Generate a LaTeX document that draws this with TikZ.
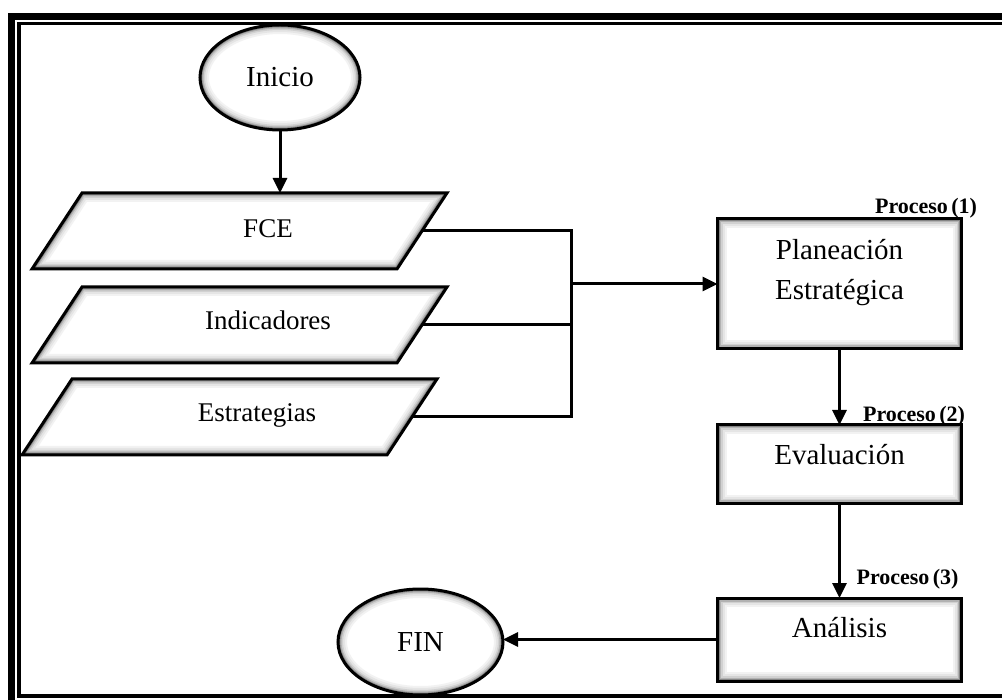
\documentclass[tikz,border=0pt]{standalone}
\usepackage{fontspec}
\setmainfont{Liberation Serif}
\newfontfamily\procfont[WordSpace=0.6]{Liberation Serif}
\usetikzlibrary{shapes.geometric, arrows.meta, calc}

% widths / grey levels of the soft inner shading along each outline
\newcommand\glowlist{18/5,14/10,10/18,7/30,4.5/48}

\tikzset{
  every node/.style={outer sep=0pt},
  boxglow/.style={path picture={
    \foreach \w/\c in \glowlist {
      \draw[line width=\w pt, black!\c]
        (path picture bounding box.south west) rectangle (path picture bounding box.north east);}}},
  ovalglow/.style={path picture={
    \foreach \w/\c in \glowlist {
      \draw[line width=\w pt, black!\c]
        let \p1=(path picture bounding box.south west), \p2=(path picture bounding box.north east) in
        (path picture bounding box.center) ellipse [x radius={(\x2-\x1)/2}, y radius={(\y2-\y1)/2}];}}},
  parglow/.style={path picture={
    \foreach \w/\c in \glowlist {
      \draw[line width=\w pt, black!\c]
        let \p1=(path picture bounding box.south west), \p2=(path picture bounding box.north east) in
        (\x1+50pt,\y2) -- (\x2,\y2) -- (\x2-50pt,\y1) -- (\x1,\y1) -- cycle;}}},
  oval/.style={ellipse, draw, line width=3pt, fill=white, ovalglow,
    minimum width=165pt, minimum height=106pt, inner sep=0pt,
    font=\fontsize{29}{34}\selectfont, text height=19pt, text depth=0pt},
  % body 315 x 76, sides slanted by 50 horizontally
  datain/.style={trapezium, trapezium left angle=56.66, trapezium right angle=123.34,
    draw, line width=3pt, fill=white, parglow,
    inner xsep=157.5pt, inner ysep=38pt, text width=0pt, text height=0pt, text depth=0pt},
  procbox/.style={rectangle, draw, line width=3pt, fill=white, boxglow,
    minimum width=244pt, inner sep=0pt},
  lbl/.style={font=\fontsize{29}{40}\selectfont, align=center, inner sep=0pt},
  plbl/.style={font=\fontsize{27}{32}\selectfont, text height=18pt, text depth=0pt, inner sep=0pt},
  tag/.style={font=\procfont\bfseries\fontsize{22}{26}\selectfont, inner sep=0pt},
  wire/.style={line width=3pt},
  flow/.style={wire, -{Triangle[length=15pt, width=14pt]}},
}

\begin{document}
\begin{tikzpicture}[x=1pt, y=-1pt]
  \clip (0,0) rectangle (1002,700);

  % double frame
  \draw[line width=7pt] (11.5,16.5) rectangle (1030,730);
  \draw[line width=3.5pt] (19.2,23.7) rectangle (1020,696.2);

  % start
  \node[oval, minimum width=160pt, minimum height=105pt, xshift=0pt] (inicio) at (280,77.5) {Inicio};

  % inputs
  \node[datain, label={[plbl, xshift=28.5pt, yshift=2pt]center:FCE}] (fce) at (239.5,231) {};
  \node[datain, label={[plbl, xshift=28.5pt, yshift=4pt]center:Indicadores}] (ind) at (239.5,325) {};
  \node[datain, label={[plbl, xshift=27.5pt, yshift=4pt]center:Estrategias}] (est) at (229.5,417) {};

  % processes
  \node[procbox, minimum height=130pt,
        label={[lbl, yshift=11pt]center:{Planeación\\Estratégica}}] (plan) at (839.5,284) {};
  \node[procbox, minimum height=79pt,
        label={[lbl, text height=19pt, text depth=0pt, yshift=9pt]center:Evaluación}] (eval) at (839.5,464.5) {};
  \node[procbox, minimum height=83pt,
        label={[lbl, text height=19pt, text depth=0pt, yshift=12pt]center:Análisis}] (anal) at (839.5,639.5) {};

  % end
  \node[oval] (fin) at (420.5,642) {FIN};

  % step tags
  \node[tag, anchor=base] (t1) at (926,214) {Proceso (1)};
  \node[tag, anchor=base] (t2) at (914,422) {Proceso (2)};
  \node[tag, anchor=base] (t3) at (907.5,584) {Proceso (3)};

  % connectors
  \coordinate (hub) at (571,284);
  \draw[flow] (inicio.south) -- (inicio.south |- fce.north);
  \draw[wire] (fce.east) -| (hub) |- (est.east);
  \draw[wire] (ind.east) -- (ind.east -| hub);
  \draw[flow] (hub) -- (plan.west);
  \draw[flow] (plan.south) -- (eval.north);
  \draw[flow] (eval.south) -- (anal.north);
  \draw[flow] (anal.west) -- (anal.west -| fin.east);
\end{tikzpicture}
\end{document}
